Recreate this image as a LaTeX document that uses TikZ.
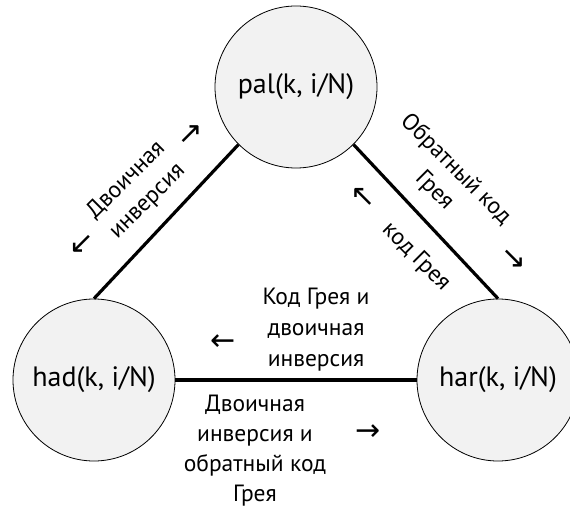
\documentclass[tikz,border=0pt]{standalone}
\usepackage{fontspec}
\setmainfont{PT Sans}
\newfontfamily\arrowfont{DejaVu Sans}
\begin{document}
\begin{tikzpicture}[x=1pt,y=1pt,
  state/.style={circle, draw=black, line width=0.8pt, fill=gray!10, minimum size=162pt, inner sep=0pt, font=\fontsize{28}{30}\selectfont},
  lbl/.style={align=center, inner sep=0pt, font=\fontsize{23.5}{30}\selectfont},
  arr/.style={inner sep=0pt, font=\arrowfont\fontsize{30}{32}\selectfont},
  edge/.style={line width=3.2pt}]
\useasboundingbox (0,0) rectangle (570,512);
\node[state] (pal) at (296,425) {pal(k, i/N)};
\node[state] (had) at (94,132) {had(k, i/N)};
\node[state] (har) at (498,132) {har(k, i/N)};
\draw[edge] (pal.225) -- (had.north);
\draw[edge] (pal.-45) -- (har.north);
\draw[edge] (had.east) -- (har.west);
% labels
\node[lbl, font=\fontsize{23.5}{31}\selectfont] (ltop) at (316,182) {Код Грея и\\двоичная\\инверсия};
\node[arr] (atop) at (223,169) {←};
\node[lbl] (lbot) at (255,61.5) {Двоичная\\инверсия и\\обратный код\\Грея};
\node[arr] (abot) at (368,79) {→};
\node[lbl, rotate=45] (lleft) at (137,321) {Двоичная\\инверсия};
\node[arr, rotate=45] (aleft1) at (192,377) {→};
\node[arr, rotate=45] (aleft2) at (83,267) {←};
\node[lbl, rotate=-45] (lright1) at (445,332) {Обратный код\\Грея};
\node[arr, rotate=-45] (aright1) at (513,252) {→};
\node[lbl, rotate=-45] (lright2) at (416,255) {код Грея};
\node[arr, rotate=-45] (aright2) at (362,314) {←};
\end{tikzpicture}
\end{document}
